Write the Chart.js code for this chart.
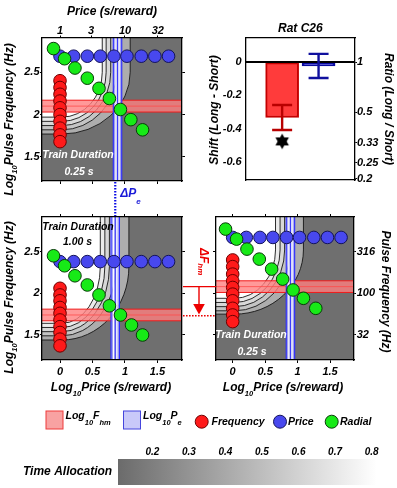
<!DOCTYPE html>
<html>
<head>
<meta charset="utf-8">
<script src="https://cdn.jsdelivr.net/npm/chart.js@4.4.1/dist/chart.umd.min.js"></script>
<style>
  html, body { margin:0; padding:0; background:#ffffff; }
  #fig { position:relative; width:397px; height:488px; overflow:hidden; background:#fff; }
  #fig canvas { position:absolute; left:0; top:0; }
</style>
</head>
<body>
<div id="fig">
  <canvas id="panelA" width="397" height="488"></canvas>
  <canvas id="panelB" width="397" height="488"></canvas>
  <canvas id="panelC" width="397" height="488"></canvas>
  <canvas id="panelR" width="397" height="488"></canvas>
  <canvas id="panelK" width="397" height="488"></canvas>
</div>
<script>
// ======================= DATA =======================
// price sweep: log10 price of each point (same in all three panels)
const priceSweepLogP = [0.00, 0.21, 0.42, 0.62, 0.83, 1.03, 1.25, 1.46, 1.67];
// price sweep: log10 pulse frequency held constant, panels A, B, C
const priceSweepLogF = [2.69, 2.38, 2.67];
// frequency sweep: log10 price held constant, panels A, B, C
const freqSweepLogP = [0, 0, 0];
// frequency sweep: log10 pulse frequencies
const freqSweepLogF_A = [2.40, 2.32, 2.24, 2.16, 2.08, 2.00, 1.92, 1.84, 1.76, 1.68];
const freqSweepLogF_B = [2.06, 1.98, 1.91, 1.83, 1.76, 1.68, 1.60, 1.53, 1.45, 1.37];
const freqSweepLogF_C = [2.40, 2.32, 2.23, 2.15, 2.07, 1.99, 1.91, 1.82, 1.74, 1.66];
// radial sweep
const radialLogP_A = [-0.10, 0.07, 0.23, 0.42, 0.60, 0.76, 0.93, 1.09, 1.27];
const radialLogF_A = [2.78, 2.66, 2.55, 2.43, 2.31, 2.19, 2.06, 1.94, 1.82];
const radialLogP_B = [-0.10, 0.07, 0.23, 0.42, 0.60, 0.76, 0.93, 1.10, 1.27];
const radialLogF_B = [2.45, 2.33, 2.21, 2.10, 1.98, 1.85, 1.74, 1.62, 1.50];
const radialLogP_C = [-0.11, 0.06, 0.22, 0.41, 0.60, 0.77, 0.93, 1.09, 1.28];
const radialLogF_C = [2.77, 2.65, 2.53, 2.41, 2.29, 2.17, 2.04, 1.94, 1.82];
// fitted surface parameters, panels A, B, C (and their confidence half-widths)
const fitLogFhm = [2.10, 1.74, 2.08];
const fitLogPe  = [0.885, 0.85, 0.89];
const fhmHalfCI = 0.07;
const peHalfCI  = 0.065;
// time-allocation contours: vertical asymptote (log price) and horizontal asymptote (log freq)
const contourLogP_A = [0.65, 0.71, 0.78, 0.87, 1.08];
const contourLogF_A = [1.97, 1.92, 1.87, 1.82, 1.77];
const contourLogP_B = [0.62, 0.69, 0.76, 0.86, 1.06];
const contourLogF_B = [1.64, 1.59, 1.54, 1.49, 1.44];
const contourLogP_C = [0.66, 0.73, 0.80, 0.89, 1.09];
const contourLogF_C = [1.94, 1.89, 1.84, 1.79, 1.75];
const contourCorner = [[0.03, 2.50], [0.03, 2.32], [0.03, 2.52]];
// Rat C26 summary: shift (long - short) of log Fhm and log Pe
const shiftNames = ['Fhm', 'Pe'];
const shiftMean  = [-0.332, -0.023];
const shiftErr   = [0.075, 0.072];
const sigStarY   = [-0.475];
// tick values and labels
const priceTickValues = [1, 3, 10, 32];
const priceTickLabels = ['1', '3', '10', '32'];
const logPriceTicks = [0, 0.5, 1, 1.5];
const logPriceTickLabels = ['0', '0.5', '1', '1.5'];
const logFreqTicks = [1.5, 2, 2.5];
const logFreqTickLabels = ['1.5', '2', '2.5'];
const freqTickLabels = ['32', '100', '316'];
const shiftTicks = [0, -0.2, -0.4, -0.6];
const shiftTickLabels = ['0', '-0.2', '-0.4', '-0.6'];
const ratioTicks = [1, 0.5, 0.33, 0.25, 0.2];
const ratioTickLabels = ['1', '0.5', '0.33', '0.25', '0.2'];
const timeAllocTicks = [0.2, 0.3, 0.4, 0.5, 0.6, 0.7, 0.8];
const timeAllocTickLabels = ['0.2', '0.3', '0.4', '0.5', '0.6', '0.7', '0.8'];
const timeAllocRange = [0.106, 0.814];

// ======================= STYLE =======================
const W = 397, H = 488;
const AX = 30; // size reserved for every labelled axis
const FONT = '"Liberation Sans", Arial, Helvetica, sans-serif';
Chart.defaults.font.family = FONT;
const TICK_FONT = { family: FONT, size: 11, style: 'italic', weight: 'bold', lineHeight: 0.8 };
const CB_FONT = { family: FONT, size: 10, style: 'italic', weight: 'bold', lineHeight: 0.8 };
const RED = '#ff1a1a', RED_EDGE = '#6e0000';
const BLUE = '#4848ee', BLUE_EDGE = '#14145a';
const GREEN = '#17ea17', GREEN_EDGE = '#0a3a0a';
const DARK_GRAY = '#6f6f6f';
const LEVEL_FILLS = ['#ffffff', '#ebebeb', '#d8d8d8', '#c4c4c4', '#adadad'];

function richText(ctx, parts, x, y, o) {
  o = o || {};
  const size = o.size || 12, sub = o.sub || 7.5, dy = (o.subDy !== undefined) ? o.subDy : 6;
  ctx.save();
  ctx.translate(x, y);
  if (o.rot) ctx.rotate(o.rot);
  ctx.fillStyle = o.color || '#000';
  ctx.textBaseline = 'middle';
  ctx.textAlign = 'left';
  const fonts = parts.map(p => 'italic bold ' + (p[1] ? sub : size) + 'px ' + FONT);
  let w = 0;
  const ws = parts.map((p, i) => { ctx.font = fonts[i]; const m = ctx.measureText(p[0]).width; w += m; return m; });
  let cx = o.align === 'center' ? -w / 2 : (o.align === 'right' ? -w : 0);
  parts.forEach((p, i) => { ctx.font = fonts[i]; ctx.fillText(p[0], cx, p[1] ? dy : 0); cx += ws[i]; });
  ctx.restore();
}

// axes keep a fixed size so that the plot rectangle lands exactly where the layout padding says
function fixedAxis(position, min, max, values, labels, tick, pad, font, border) {
  return {
    type: 'linear', position, min, max, offset: false,
    afterBuildTicks: s => { s.ticks = values.map(v => ({ value: v })); },
    afterFit: s => { const sz = labels ? AX : 0; if (s.isHorizontal()) s.height = sz; else s.width = sz; },
    ticks: {
      display: !!labels, autoSkip: false, maxRotation: 0, minRotation: 0,
      padding: pad || 0, color: '#000', font: font || TICK_FONT,
      callback: (v, i) => (labels ? labels[i] : '')
    },
    grid: { display: true, drawOnChartArea: false, drawTicks: tick > 0, tickLength: tick,
            color: '#000', lineWidth: 1, offset: false },
    border: { display: border !== false, color: '#000', width: 1.3 }
  };
}

function paddingFor(area, lab) {
  // area: [left, top, right, bottom]; lab: which sides carry labelled axes
  return {
    left: area[0] - (lab.left ? AX : 0),
    top: area[1] - (lab.top ? AX : 0),
    right: W - area[2] - (lab.right ? AX : 0),
    bottom: H - area[3] - (lab.bottom ? AX : 0)
  };
}

function heatLayer(d, v) {
  return {
    id: 'heat',
    beforeDraw(chart) {
      const { ctx, chartArea: a } = chart;
      const sx = chart.scales.x, sy = chart.scales.y;
      ctx.save();
      ctx.beginPath(); ctx.rect(a.left, a.top, a.right - a.left, a.bottom - a.top); ctx.clip();
      ctx.fillStyle = DARK_GRAY;
      ctx.fillRect(a.left, a.top, a.right - a.left, a.bottom - a.top);
      const cx = sx.getPixelForValue(d.corner[0]), cy = sy.getPixelForValue(d.corner[1]);
      const shape = (i, closed) => {
        const ax = sx.getPixelForValue(d.contP[i]), by = sy.getPixelForValue(d.contF[i]);
        ctx.beginPath();
        if (closed) { ctx.moveTo(a.left - 3, a.top - 3); ctx.lineTo(ax, a.top - 3); }
        else ctx.moveTo(ax, a.top - 3);
        ctx.lineTo(ax, cy);
        ctx.ellipse(cx, cy, ax - cx, by - cy, 0, 0, Math.PI / 2);
        ctx.lineTo(a.left - 3, by);
        if (closed) ctx.closePath();
      };
      for (let i = d.contP.length - 1; i >= 0; i--) { shape(i, true); ctx.fillStyle = LEVEL_FILLS[i]; ctx.fill(); }
      ctx.strokeStyle = '#151515'; ctx.lineWidth = 0.9;
      for (let i = 0; i < d.contP.length; i++) { shape(i, false); ctx.stroke(); }
      // Fhm band
      const f0 = sy.getPixelForValue(d.fhm + fhmHalfCI), f1 = sy.getPixelForValue(d.fhm - fhmHalfCI), fc = sy.getPixelForValue(d.fhm);
      ctx.fillStyle = 'rgba(255,128,128,0.80)';
      ctx.fillRect(a.left, f0, a.right - a.left, f1 - f0);
      const hl = (yy, c, lw) => { ctx.beginPath(); ctx.moveTo(a.left, yy); ctx.lineTo(a.right, yy); ctx.strokeStyle = c; ctx.lineWidth = lw; ctx.stroke(); };
      hl(f0, '#f01c1c', 1); hl(f1, '#f01c1c', 1); hl(fc, '#ff4a4a', 0.8);
      // Pe band
      const p0 = sx.getPixelForValue(d.pe - peHalfCI), p1 = sx.getPixelForValue(d.pe + peHalfCI), pc = sx.getPixelForValue(d.pe);
      ctx.fillStyle = 'rgba(168,168,255,0.85)';
      ctx.fillRect(p0, a.top, p1 - p0, a.bottom - a.top);
      const vl = (xx, c, lw) => { ctx.beginPath(); ctx.moveTo(xx, a.top); ctx.lineTo(xx, a.bottom); ctx.strokeStyle = c; ctx.lineWidth = lw; ctx.stroke(); };
      vl(pc - 1.6, '#ffffff', 1.2); vl(pc + 1.6, '#ffffff', 1.2);
      vl(p0, '#2a2aff', 1.1); vl(p1, '#2a2aff', 1.1); vl(pc, '#2a2aff', 0.9);
      ctx.restore();
    },
    afterDatasetsDraw(chart) {
      const { ctx, chartArea: a } = chart;
      ctx.save();
      ctx.font = 'italic bold 10.5px ' + FONT;
      ctx.fillStyle = v.tdColor; ctx.textAlign = 'center'; ctx.textBaseline = 'middle';
      ctx.fillText('Train Duration', a.left + v.tdPos[0][0], a.top + v.tdPos[0][1]);
      ctx.fillText(v.tdText, a.left + v.tdPos[1][0], a.top + v.tdPos[1][1]);
      ctx.restore();
    },
    afterDraw(chart) { v.titles(chart.ctx, chart.chartArea); }
  };
}

function makeHeatPanel(canvasId, d, v) {
  const datasets = [
    { label: 'Radial', data: d.radP.map((p, i) => ({ x: p, y: d.radF[i] })), backgroundColor: GREEN, borderColor: GREEN_EDGE },
    { label: 'Frequency', data: d.freqF.map(f => ({ x: d.freqP, y: f })), backgroundColor: RED, borderColor: RED_EDGE },
    { label: 'Price', data: priceSweepLogP.map(p => ({ x: p, y: d.priceF })), backgroundColor: BLUE, borderColor: BLUE_EDGE }
  ].map(ds => Object.assign(ds, { pointRadius: 6.3, pointHoverRadius: 6.3, borderWidth: 1, showLine: false }));
  return new Chart(document.getElementById(canvasId), {
    type: 'scatter',
    data: { datasets },
    options: {
      responsive: false, animation: false, devicePixelRatio: 1, events: [],
      layout: { padding: paddingFor(v.area, { left: v.leftLabels, top: !!v.topLabels, right: v.rightLabels, bottom: v.bottomLabels }) },
      plugins: { legend: { display: false }, tooltip: { enabled: false } },
      scales: {
        x: fixedAxis('bottom', v.xr[0], v.xr[1], logPriceTicks, v.bottomLabels ? logPriceTickLabels : null, 3, 5),
        xt: fixedAxis('top', v.xr[0], v.xr[1], v.topTicks, v.topLabels, v.topLabels ? 2.5 : 3, 0),
        y: fixedAxis('left', v.yr[0], v.yr[1], logFreqTicks, v.leftLabels ? logFreqTickLabels : null, v.leftLabels ? 2 : 3, 0.5),
        yr: fixedAxis('right', v.yr[0], v.yr[1], logFreqTicks, v.rightLabels ? freqTickLabels : null, v.rightLabels ? 2 : 3, 0.7)
      }
    },
    plugins: [heatLayer(d, v)]
  });
}

const yTitleParts = [['Log'], ['10', true], ['Pulse Frequency (Hz)']];
const xTitleParts = [['Log'], ['10', true], ['Price (s/reward)']];

// ---------- Panel A: 0.25 s (top left) ----------
const chartA = makeHeatPanel('panelA',
  { radP: radialLogP_A, radF: radialLogF_A, freqP: freqSweepLogP[0], freqF: freqSweepLogF_A, priceF: priceSweepLogF[0],
    fhm: fitLogFhm[0], pe: fitLogPe[0], contP: contourLogP_A, contF: contourLogF_A, corner: contourCorner[0] },
  { area: [42, 38, 182, 181], xr: [-0.277, 1.877], yr: [1.215, 2.905],
    topTicks: priceTickValues.map(Math.log10), topLabels: priceTickLabels,
    bottomLabels: false, leftLabels: true, rightLabels: false,
    tdColor: '#ffffff', tdText: '0.25 s', tdPos: [[36, 117], [37, 134]],
    titles: (ctx, a) => {
      richText(ctx, [['Price (s/reward)']], (a.left + a.right) / 2, 12, { size: 12, align: 'center' });
      richText(ctx, yTitleParts, a.left - 32, (a.top + a.bottom) / 2 + 10, { size: 12, align: 'center', rot: -Math.PI / 2, subDy: 5 });
    } });

// ---------- Panel B: 1.00 s (bottom left) ----------
const chartB = makeHeatPanel('panelB',
  { radP: radialLogP_B, radF: radialLogF_B, freqP: freqSweepLogP[1], freqF: freqSweepLogF_B, priceF: priceSweepLogF[1],
    fhm: fitLogFhm[1], pe: fitLogPe[1], contP: contourLogP_B, contF: contourLogF_B, corner: contourCorner[1] },
  { area: [42, 217, 182, 360], xr: [-0.277, 1.877], yr: [1.2, 2.915],
    topTicks: logPriceTicks, topLabels: null,
    bottomLabels: true, leftLabels: true, rightLabels: false,
    tdColor: '#000000', tdText: '1.00 s', tdPos: [[36, 9.7], [35.5, 25.3]],
    titles: (ctx, a) => {
      richText(ctx, xTitleParts, (a.left + a.right) / 2 - 1, a.bottom + 28, { size: 12, align: 'center' });
      richText(ctx, yTitleParts, a.left - 32, (a.top + a.bottom) / 2 + 9, { size: 12, align: 'center', rot: -Math.PI / 2, subDy: 5 });
    } });

// ---------- Panel C: 0.25 s (bottom right) ----------
const chartC = makeHeatPanel('panelC',
  { radP: radialLogP_C, radF: radialLogF_C, freqP: freqSweepLogP[2], freqF: freqSweepLogF_C, priceF: priceSweepLogF[2],
    fhm: fitLogFhm[2], pe: fitLogPe[2], contP: contourLogP_C, contF: contourLogF_C, corner: contourCorner[2] },
  { area: [216, 217, 354, 360], xr: [-0.257, 1.869], yr: [1.2, 2.915],
    topTicks: logPriceTicks, topLabels: null,
    bottomLabels: true, leftLabels: false, rightLabels: true,
    tdColor: '#ffffff', tdText: '0.25 s', tdPos: [[35, 118], [36, 134.7]],
    titles: (ctx, a) => {
      richText(ctx, xTitleParts, (a.left + a.right) / 2 - 2, a.bottom + 28, { size: 12, align: 'center' });
      richText(ctx, [['Pulse Frequency (Hz)']], a.right + 31, (a.top + a.bottom) / 2 + 3, { size: 12, align: 'center', rot: Math.PI / 2 });
    } });

// ---------- Panel R: Rat C26 shift bars ----------
const starImg = document.createElement('canvas');
starImg.width = 18; starImg.height = 18;
(function () {
  const sc = starImg.getContext('2d'); sc.fillStyle = '#000';
  const c = 9, R = 7.8;
  [[-90, 30, 150], [90, 210, 330]].forEach(angs => {
    sc.beginPath();
    angs.forEach((g, k) => { const t = g * Math.PI / 180; const px = c + R * Math.cos(t), py = c + R * Math.sin(t); k ? sc.lineTo(px, py) : sc.moveTo(px, py); });
    sc.closePath(); sc.fill();
  });
})();

const barOverlay = {
  id: 'barOverlay',
  afterDatasetsDraw(chart) {
    const { ctx, chartArea: a } = chart;
    const sx = chart.scales.x, sy = chart.scales.y;
    ctx.save();
    const y0 = sy.getPixelForValue(0);
    ctx.beginPath(); ctx.moveTo(a.left, y0); ctx.lineTo(a.right, y0);
    ctx.strokeStyle = '#000'; ctx.lineWidth = 2; ctx.stroke();
    const errColors = ['#b80000', '#10109e'];
    shiftMean.forEach((m, i) => {
      const x = sx.getPixelForValue(i + 1);
      const yt = sy.getPixelForValue(m + shiftErr[i]), yb = sy.getPixelForValue(m - shiftErr[i]);
      ctx.strokeStyle = errColors[i]; ctx.lineWidth = 2.4;
      ctx.beginPath();
      ctx.moveTo(x, yt); ctx.lineTo(x, yb);
      ctx.moveTo(x - 10, yt); ctx.lineTo(x + 10, yt);
      ctx.moveTo(x - 10, yb); ctx.lineTo(x + 10, yb);
      ctx.stroke();
    });
    ctx.restore();
  },
  afterDraw(chart) {
    const { ctx, chartArea: a } = chart;
    const mid = (a.top + a.bottom) / 2;
    richText(ctx, [['Rat C26']], (a.left + a.right) / 2, a.top - 9, { size: 12, align: 'center' });
    richText(ctx, [['Shift (Long - Short)']], a.left - 30.7, mid + 1, { size: 12, align: 'center', rot: -Math.PI / 2 });
    richText(ctx, [['Ratio (Long / Short)']], a.right + 33, mid, { size: 12, align: 'center', rot: Math.PI / 2 });
  }
};

const chartR = new Chart(document.getElementById('panelR'), {
  type: 'bar',
  data: {
    datasets: [
      { type: 'bar', label: 'shift', data: shiftMean.map((m, i) => ({ x: i + 1, y: m })),
        backgroundColor: ['#ff3b3b', '#2b2bd6'], borderColor: ['#c40000', '#0a0a9e'],
        borderWidth: 2, borderSkipped: false, barThickness: 33, order: 2 },
      { type: 'scatter', label: 'sig', data: sigStarY.map(y => ({ x: 1, y })),
        pointStyle: starImg, pointRadius: 8, order: 1 }
    ]
  },
  options: {
    responsive: false, animation: false, devicePixelRatio: 1, events: [],
    layout: { padding: paddingFor([245.7, 38, 355, 180], { left: true, right: true }) },
    plugins: { legend: { display: false }, tooltip: { enabled: false } },
    scales: {
      x: fixedAxis('bottom', 0, 3, [1.5], null, 0, 0),
      xt: fixedAxis('top', 0, 3, [1.5], null, 0, 0),
      y: fixedAxis('left', -0.706, 0.144, shiftTicks, shiftTickLabels, 0, 4),
      yr: fixedAxis('right', -0.706, 0.144, ratioTicks.map(Math.log10), ratioTickLabels, 2, 0)
    }
  },
  plugins: [barOverlay]
});

// ---------- Panel K: colour bar + legend + annotations ----------
function dot(ctx, x, y, r, fill, edge) {
  ctx.beginPath(); ctx.arc(x, y, r, 0, Math.PI * 2);
  ctx.fillStyle = fill; ctx.fill(); ctx.strokeStyle = edge; ctx.lineWidth = 1; ctx.stroke();
}

const overlay = {
  id: 'overlay',
  beforeDraw(chart) {
    const { ctx, chartArea: a } = chart;
    const sx = chart.scales.x;
    const x0 = sx.getPixelForValue(timeAllocRange[0]), x1 = sx.getPixelForValue(timeAllocRange[1]);
    const g = ctx.createLinearGradient(x0, 0, x1, 0);
    g.addColorStop(0, '#6b6b6b'); g.addColorStop(1, '#ffffff');
    ctx.save(); ctx.fillStyle = g; ctx.fillRect(x0, a.top, x1 - x0, a.bottom - a.top); ctx.restore();
  },
  afterDraw(chart) {
    const ctx = chart.ctx;
    ctx.save();
    richText(ctx, [['Time Allocation']], 23, 471.7, { size: 12 });
    // legend
    ctx.fillStyle = '#f8a2a2'; ctx.strokeStyle = '#ee3b3b'; ctx.lineWidth = 1;
    ctx.fillRect(46, 411, 17, 18); ctx.strokeRect(46, 411, 17, 18);
    richText(ctx, [['Log'], ['10', true], ['F'], ['hm', true]], 65.5, 416, { size: 10.5, sub: 7.5, subDy: 7 });
    ctx.fillStyle = '#c9c9f9'; ctx.strokeStyle = '#4545dd';
    ctx.fillRect(123.5, 411, 17, 18); ctx.strokeRect(123.5, 411, 17, 18);
    richText(ctx, [['Log'], ['10', true], ['P'], ['e', true]], 143, 416, { size: 10.5, sub: 7.5, subDy: 7 });
    dot(ctx, 201.7, 421.7, 6.5, RED, RED_EDGE);
    richText(ctx, [['Frequency']], 211.5, 422.3, { size: 10.5 });
    dot(ctx, 280, 421.7, 6.5, BLUE, BLUE_EDGE);
    richText(ctx, [['Price']], 288, 422.3, { size: 10.5 });
    dot(ctx, 331.7, 421.7, 6.5, GREEN, GREEN_EDGE);
    richText(ctx, [['Radial']], 340, 422.3, { size: 10.5 });

    // Delta Pe between panels A and B
    const xPe = chartB.scales.x.getPixelForValue(fitLogPe[1]);
    const yTop = chartA.chartArea.bottom, yBot = chartB.chartArea.top;
    ctx.setLineDash([1.6, 1.4]); ctx.strokeStyle = '#0a0ae6'; ctx.lineWidth = 2.2;
    ctx.beginPath(); ctx.moveTo(xPe, yTop + 1); ctx.lineTo(xPe, yBot - 1); ctx.stroke();
    ctx.setLineDash([]);
    richText(ctx, [['\u0394P'], ['e', true]], xPe + 5, 194, { size: 12, sub: 8, subDy: 8, color: '#1a1ad8' });

    // Delta Fhm between panels B and C
    const yC = chartC.scales.y.getPixelForValue(fitLogFhm[2]);
    const yB = chartB.scales.y.getPixelForValue(fitLogFhm[1]);
    const x0 = chartB.chartArea.right, x1 = chartC.chartArea.left, xm = (x0 + x1) / 2;
    ctx.strokeStyle = '#ec0000'; ctx.fillStyle = '#ec0000'; ctx.lineWidth = 1.4;
    ctx.beginPath(); ctx.moveTo(x0 + 1, yC); ctx.lineTo(x1, yC); ctx.stroke();
    ctx.beginPath(); ctx.moveTo(xm, yC); ctx.lineTo(xm, yB - 11); ctx.stroke();
    ctx.beginPath(); ctx.moveTo(xm - 5.8, yB - 11); ctx.lineTo(xm + 5.8, yB - 11); ctx.lineTo(xm, yB - 0.5); ctx.closePath(); ctx.fill();
    ctx.setLineDash([1.6, 1.4]);
    ctx.beginPath(); ctx.moveTo(x0 + 1, yB + 0.8); ctx.lineTo(x1, yB + 0.8); ctx.stroke();
    ctx.setLineDash([]);
    richText(ctx, [['\u0394F'], ['hm', true]], xm + 4, yC - 25, { size: 12, sub: 8, subDy: 3, color: '#ec0000', rot: Math.PI / 2, align: 'center' });
    ctx.restore();
  }
};

const chartK = new Chart(document.getElementById('panelK'), {
  type: 'scatter',
  data: { datasets: [] },
  options: {
    responsive: false, animation: false, devicePixelRatio: 1, events: [],
    layout: { padding: paddingFor([118, 459, 376.7, 485], { top: true }) },
    plugins: { legend: { display: false }, tooltip: { enabled: false } },
    scales: {
      x: fixedAxis('top', timeAllocRange[0], timeAllocRange[1], timeAllocTicks, timeAllocTickLabels, 0, 2.3, CB_FONT, false),
      y: { display: false, min: 0, max: 1 }
    }
  },
  plugins: [overlay]
});
</script>
</body>
</html>
